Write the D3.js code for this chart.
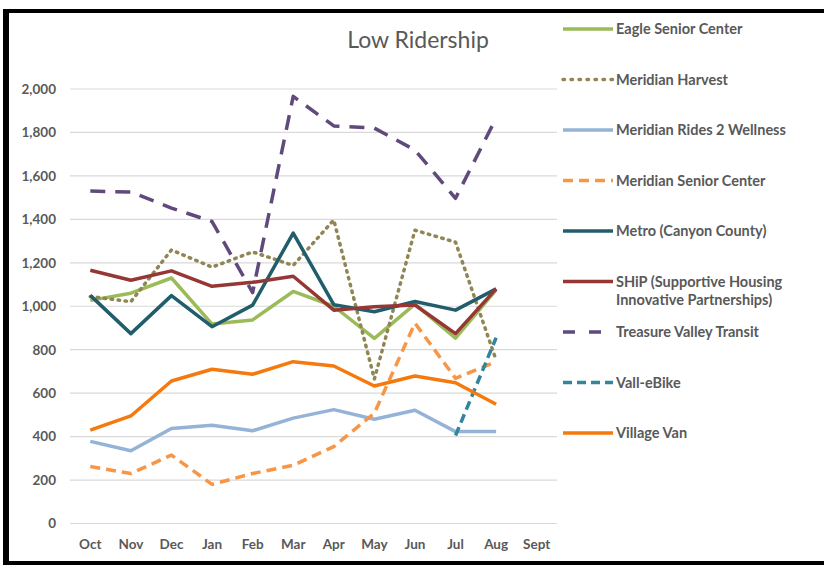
<!DOCTYPE html>
<html>
<head>
<meta charset="utf-8">
<script src="https://cdn.jsdelivr.net/npm/d3@7"></script>
<style>
  body { margin: 0; background: #fff; }
  svg { display: block; font-family: Lato, "Liberation Sans", sans-serif; }
</style>
</head>
<body>
<div id="chart"></div>
<script>
const months = ["Oct", "Nov", "Dec", "Jan", "Feb", "Mar", "Apr", "May", "Jun", "Jul", "Aug", "Sept"];
const yTicks = [0, 200, 400, 600, 800, 1000, 1200, 1400, 1600, 1800, 2000];

const eagleSenior = [1027, 1060, 1130, 918, 937, 1068, 1000, 852, 1010, 853, 1075, null];
const meridianHarvest = [1045, 1021, 1259, 1180, 1250, 1188, 1397, 665, 1350, 1295, 752, null];
const meridianRides = [378, 335, 437, 452, 427, 485, 524, 480, 521, 423, 423, null];
const meridianSenior = [262, 230, 315, 180, 230, 268, 354, 508, 922, 668, 745, null];
const metroCanyon = [1050, 874, 1049, 906, 1005, 1337, 1007, 975, 1022, 982, 1080, null];
const ship = [1166, 1120, 1163, 1092, 1110, 1138, 982, 998, 1006, 874, 1080, null];
const treasureValley = [1530, 1526, 1452, 1390, 1063, 1966, 1830, 1820, 1719, 1497, 1866, null];
const vallEBike = [null, null, null, null, null, null, null, null, null, 405, 855, null];
const villageVan = [430, 495, 656, 710, 687, 745, 725, 633, 679, 648, 549, null];

const series = [
  { name: "Eagle Senior Center", values: eagleSenior, color: "#9bbb59", dash: null },
  { name: "Meridian Harvest", values: meridianHarvest, color: "#8f8654", dash: "1.5 5.5", cap: "round" },
  { name: "Meridian Rides 2 Wellness", values: meridianRides, color: "#95b3d7", dash: null },
  { name: "Meridian Senior Center", values: meridianSenior, color: "#f79646", dash: "10 6" },
  { name: "Metro (Canyon County)", values: metroCanyon, color: "#215d6b", dash: null },
  { name: ["SHiP (Supportive Housing", "Innovative Partnerships)"], values: ship, color: "#953735", dash: null },
  { name: "Treasure Valley Transit", values: treasureValley, color: "#604a7b", dash: "15 10" },
  { name: "Vall-eBike", values: vallEBike, color: "#31859c", dash: "9 5" },
  { name: "Village Van", values: villageVan, color: "#f47a0e", dash: null }
];

const W = 824, H = 565;
const svg = d3.select("#chart").append("svg")
  .attr("width", W)
  .attr("height", H);

// frame
svg.append("rect").attr("x", 0).attr("y", 0).attr("width", W).attr("height", H).attr("fill", "#fff");
svg.append("path")
  .attr("d", `M${W + 10},11 H6 V563 H${W + 10}`)
  .attr("fill", "none")
  .attr("stroke", "#000")
  .attr("stroke-width", 4);
svg.append("rect").attr("x", 3).attr("y", 9).attr("width", 6).attr("height", 556).attr("fill", "#000");

const x = d3.scaleBand()
  .domain(months)
  .range([70, 557]);

const y = d3.scaleLinear()
  .domain([0, 2000])
  .range([523.5, 89]);

// gridlines
svg.append("g")
  .selectAll("line")
  .data(yTicks)
  .join("line")
  .attr("x1", 70)
  .attr("x2", 557)
  .attr("y1", d => y(d))
  .attr("y2", d => y(d))
  .attr("stroke", "#d9d9d9")
  .attr("stroke-width", 1.2);

// y axis labels
const yAxis = svg.append("g")
  .attr("transform", "translate(70,0)")
  .call(d3.axisLeft(y).tickValues(yTicks).tickSize(0).tickPadding(14).tickFormat(d3.format(",")));
yAxis.select(".domain").remove();
yAxis.selectAll("text")
  .attr("fill", "#595959")
  .attr("font-size", "13.5px")
  .attr("font-weight", "bold")
  .attr("font-family", "Lato, sans-serif");

// x axis labels
const xAxis = svg.append("g")
  .attr("transform", "translate(0,523.5)")
  .call(d3.axisBottom(x).tickSize(0).tickPadding(16));
xAxis.select(".domain").remove();
xAxis.selectAll("text")
  .attr("fill", "#595959")
  .attr("font-size", "13.5px")
  .attr("font-weight", "bold")
  .attr("font-family", "Lato, sans-serif");

// lines
const line = d3.line()
  .defined(d => d != null)
  .x((d, i) => x(months[i]) + x.bandwidth() / 2)
  .y(d => y(d));

svg.append("g")
  .selectAll("path")
  .data(series)
  .join("path")
  .attr("d", d => line(d.values))
  .attr("fill", "none")
  .attr("stroke", d => d.color)
  .attr("stroke-width", 3.5)
  .attr("stroke-dasharray", d => d.dash)
  .attr("stroke-linecap", d => d.cap || "butt")
  .attr("stroke-linejoin", "round");

// title
svg.append("text")
  .attr("x", 418)
  .attr("y", 48)
  .attr("text-anchor", "middle")
  .attr("font-size", "23px")
  .attr("fill", "#595959")
  .text("Low Ridership");

// legend
const legend = svg.append("g")
  .selectAll("g")
  .data(series)
  .join("g")
  .attr("transform", (d, i) => `translate(563,${29 + i * 50.5})`);

legend.append("line")
  .attr("x1", 0)
  .attr("x2", 50)
  .attr("stroke", d => d.color)
  .attr("stroke-width", 3.5)
  .attr("stroke-dasharray", d => d.name === "Treasure Valley Transit" ? "12 14" : d.dash === "1.5 5.5" ? "1.5 6.5" : d.dash)
  .attr("stroke-linecap", d => d.cap || "butt");

legend.append("text")
  .attr("x", 53)
  .attr("y", 5)
  .attr("font-size", "14.5px")
  .attr("font-weight", "bold")
  .attr("fill", "#595959")
  .each(function(d) {
    const names = Array.isArray(d.name) ? d.name : [d.name];
    d3.select(this).selectAll("tspan")
      .data(names)
      .join("tspan")
      .attr("x", 53)
      .attr("dy", (n, j) => j === 0 ? 0 : 18)
      .text(n => n);
  });
</script>
</body>
</html>
